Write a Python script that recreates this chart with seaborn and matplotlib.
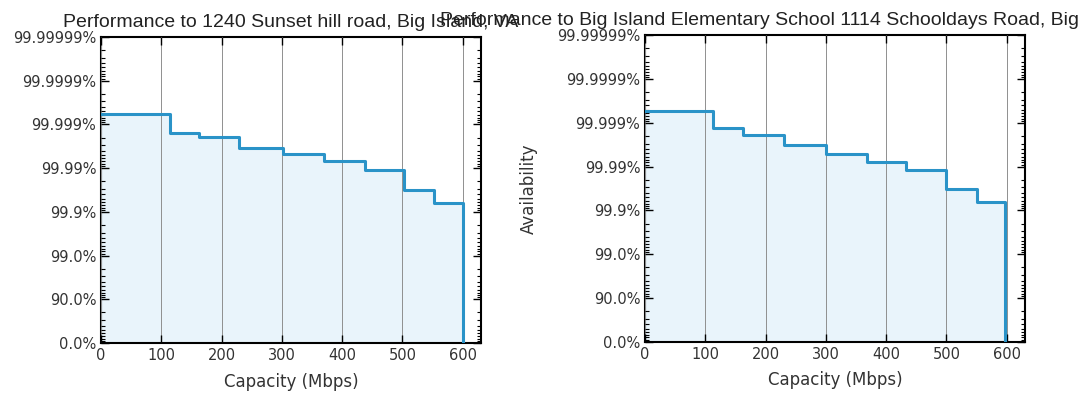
import numpy as np
import pandas as pd
import seaborn as sns
import matplotlib.pyplot as plt
from matplotlib.ticker import FixedLocator

# capacity (Mbps) where each step starts, and availability in "nines"
cap_left = [0, 114, 163, 229, 302, 370, 438, 502, 552, 600]
nines_left = [5.23, 4.80, 4.70, 4.46, 4.33, 4.17, 3.96, 3.50, 3.21, 0.0]
cap_right = [0, 113, 163, 230, 300, 368, 433, 500, 550, 597]
nines_right = [5.26, 4.87, 4.72, 4.49, 4.28, 4.11, 3.92, 3.48, 3.20, 0.0]

ytick_labels = ["0.0%", "90.0%", "99.0%", "99.9%", "99.99%", "99.999%",
                "99.9999%", "99.99999%"]
xticks = [0, 100, 200, 300, 400, 500, 600]

title_left = "Performance to 1240 Sunset hill road, Big Island, VA"
title_right = "Performance to Big Island Elementary School 1114 Schooldays Road, Big Island, VA 24526"

LINE = "#2a93c8"
FILL = "#e9f4fb"

sns.set_style("ticks")
plt.rcParams["font.family"] = ["DejaVu Sans"]

fig = plt.figure(figsize=(10.79, 3.94), dpi=100)
ax1 = fig.add_axes([0.0936, 0.1294, 0.352, 0.777])
ax2 = fig.add_axes([0.5978, 0.1327, 0.352, 0.778])

# minor ticks inside each decade of unavailability
minor = []
for d in range(7):
    for k in range(2, 10):
        minor.append(d - np.log10(k / 10))
minor = [m for m in minor if 0 < m < 7]


def draw(ax, caps, nines, title, ylabel):
    df = pd.DataFrame({"cap": caps, "nines": nines})
    ax.fill_between(df["cap"], df["nines"], step="post", color=FILL, zorder=1)
    sns.lineplot(data=df, x="cap", y="nines", ax=ax, drawstyle="steps-post",
                 color=LINE, linewidth=2.2, zorder=3)
    ax.set_xlim(0, 630)
    ax.set_ylim(0, 7)
    ax.set_xticks(xticks)
    ax.set_yticks(range(8))
    ax.set_yticklabels(ytick_labels)
    ax.yaxis.set_minor_locator(FixedLocator(minor))
    ax.xaxis.grid(True, color="#8f8f8f", linewidth=0.7, zorder=2)
    ax.set_axisbelow(False)
    ax.tick_params(which="both", direction="in", top=True, right=True,
                   labelsize=10.5, colors="black", labelcolor="#333333")
    ax.tick_params(which="major", length=6, width=1)
    ax.tick_params(which="minor", length=3, width=0.8)
    for s in ax.spines.values():
        s.set_linewidth(1.5)
        s.set_color("black")
    ax.set_xlabel("Capacity (Mbps)", fontsize=12, color="#333333", labelpad=7)
    ax.set_ylabel(ylabel, fontsize=12, color="#333333", labelpad=14)
    ax.set_title(title, fontsize=14, family=["Liberation Sans"], pad=7,
                 color="#222222")


draw(ax1, cap_left, nines_left, title_left, "")
draw(ax2, cap_right, nines_right, title_right, "Availability")

fig.savefig("out.png", dpi=100)
